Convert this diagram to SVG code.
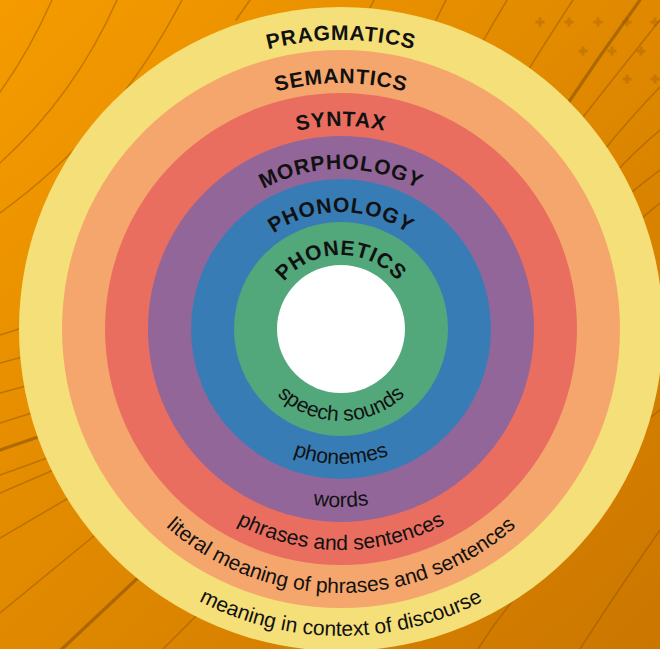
<svg xmlns="http://www.w3.org/2000/svg" width="660" height="649" viewBox="0 0 660 649">
<defs>
<linearGradient id="bg" x1="0" y1="0" x2="1" y2="1">
<stop offset="0" stop-color="#F59B00"/>
<stop offset="1" stop-color="#CB7600"/>
</linearGradient>
<path id="top1" d="M52 329 A289 289 0 0 1 630 329"/>
<path id="top2" d="M95 329 A246 246 0 0 1 587 329"/>
<path id="top3" d="M138 329 A203 203 0 0 1 544 329"/>
<path id="top4" d="M181 329 A160 160 0 0 1 501 329"/>
<path id="top5" d="M224 329 A117 117 0 0 1 458 329"/>
<path id="top6" d="M267 329 A74 74 0 0 1 415 329"/>
<path id="bot1" d="M34 329 A307 307 0 0 0 648 329"/>
<path id="bot2" d="M77 329 A264 264 0 0 0 605 329"/>
<path id="bot3" d="M120 329 A221 221 0 0 0 562 329"/>
<path id="bot4" d="M163 329 A178 178 0 0 0 519 329"/>
<path id="bot5" d="M206 329 A135 135 0 0 0 476 329"/>
<path id="bot6" d="M249 329 A92 92 0 0 0 433 329"/>
<path id="plus" d="M-4.5 -1.5 H-1.5 V-4.5 H1.5 V-1.5 H4.5 V1.5 H1.5 V4.5 H-1.5 V1.5 H-4.5 Z"/>
</defs>
<style>
.ln{fill:none;stroke:#8A5200;stroke-opacity:0.45;stroke-width:1.5;stroke-linecap:round}
.lt{fill:none;stroke:#7A4800;stroke-opacity:0.5;stroke-width:3.2;stroke-linecap:round}
.pl{fill:#8A5200;fill-opacity:0.3}
.hd{font-family:"Liberation Sans",Arial,sans-serif;font-weight:bold;font-size:21px;letter-spacing:0.8px;fill:#111}
.sb{font-family:"Liberation Sans",Arial,sans-serif;font-size:21px;fill:#111}
</style>
<rect width="660" height="649" fill="url(#bg)"/>
<g id="background-lines">
<path class="ln" d="M0 92 Q30 50 52 0"/>
<path class="ln" d="M0 163 Q75 95 117 0"/>
<path class="ln" d="M0 213 Q115 130 182 0"/>
<path class="ln" d="M236 20 L250 0"/>
<path class="ln" d="M368 12 L374 0"/>
<path class="ln" d="M436 20 L446 0"/>
<path class="ln" d="M478 50 Q492 25 507 0"/>
<path class="ln" d="M522 80 Q548 38 573 0"/>
<path class="lt" d="M562 112 Q600 55 640 0"/>
<path class="ln" d="M576 126 Q620 70 660 20"/>
<path class="ln" d="M600 155 Q630 118 660 87"/>
<path class="ln" d="M612 176 Q636 150 660 130"/>
<path class="ln" d="M625 198 Q642 183 660 170"/>
<path class="ln" d="M636 224 Q648 212 660 203"/>
<path class="ln" d="M640 426 L660 410"/>
<path class="ln" d="M580 649 Q618 590 660 530"/>
<path class="ln" d="M515 598 Q495 622 478 649"/>
<path class="ln" d="M0 335 L25 327"/>
<path class="ln" d="M0 363 L26 356"/>
<path class="ln" d="M0 393 L30 385"/>
<path class="ln" d="M0 423 L35 412"/>
<path class="lt" d="M0 450 L44 435"/>
<path class="ln" d="M0 475 L50 457"/>
<path class="ln" d="M0 493 L56 469"/>
<path class="ln" d="M0 538 L72 496"/>
<path class="ln" d="M0 613 L100 531"/>
<path class="lt" d="M62 649 L142 574"/>
<path class="ln" d="M163 649 L200 612"/>
<use href="#plus" class="pl" x="540" y="22"/>
<use href="#plus" class="pl" x="569" y="22"/>
<use href="#plus" class="pl" x="598" y="22"/>
<use href="#plus" class="pl" x="627" y="22"/>
<use href="#plus" class="pl" x="655" y="22"/>
<use href="#plus" class="pl" x="583" y="51"/>
<use href="#plus" class="pl" x="612" y="51"/>
<use href="#plus" class="pl" x="641" y="51"/>
<use href="#plus" class="pl" x="627" y="79"/>
<use href="#plus" class="pl" x="655" y="79"/>
</g>
<g id="pragmatics">
<circle cx="341" cy="329" r="322" fill="#F5DF78"/>
<text class="hd"><textPath href="#top1" startOffset="50%" text-anchor="middle">PRAGMATICS</textPath></text>
<text class="sb"><textPath href="#bot1" startOffset="50%" text-anchor="middle">meaning in context of discourse</textPath></text>
</g>
<g id="semantics">
<circle cx="341" cy="329" r="279" fill="#F5A66C"/>
<text class="hd"><textPath href="#top2" startOffset="50%" text-anchor="middle">SEMANTICS</textPath></text>
<text class="sb"><textPath href="#bot2" startOffset="50%" text-anchor="middle">literal meaning of phrases and sentences</textPath></text>
</g>
<g id="syntax">
<circle cx="341" cy="329" r="236" fill="#E96E5F"/>
<text class="hd"><textPath href="#top3" startOffset="50%" text-anchor="middle">SYNTAX</textPath></text>
<text class="sb"><textPath href="#bot3" startOffset="50%" text-anchor="middle">phrases and sentences</textPath></text>
</g>
<g id="morphology">
<circle cx="341" cy="329" r="193" fill="#926699"/>
<text class="hd"><textPath href="#top4" startOffset="50%" text-anchor="middle">MORPHOLOGY</textPath></text>
<text class="sb"><textPath href="#bot4" startOffset="50%" text-anchor="middle">words</textPath></text>
</g>
<g id="phonology">
<circle cx="341" cy="329" r="150" fill="#387CB6"/>
<text class="hd"><textPath href="#top5" startOffset="50%" text-anchor="middle">PHONOLOGY</textPath></text>
<text class="sb"><textPath href="#bot5" startOffset="50%" text-anchor="middle">phonemes</textPath></text>
</g>
<g id="phonetics">
<circle cx="341" cy="329" r="107" fill="#52A77B"/>
<text class="hd"><textPath href="#top6" startOffset="50%" text-anchor="middle">PHONETICS</textPath></text>
<text class="sb"><textPath href="#bot6" startOffset="50%" text-anchor="middle">speech sounds</textPath></text>
</g>
<g id="core">
<circle cx="341" cy="329" r="64" fill="#FFFFFF"/>
</g>
</svg>
